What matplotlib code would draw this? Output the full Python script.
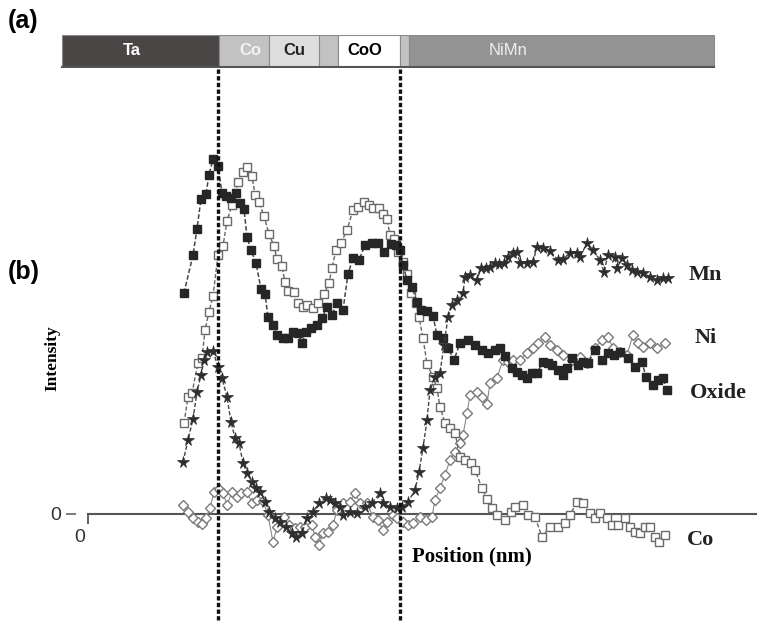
import numpy as np
import matplotlib.pyplot as plt
from matplotlib.lines import Line2D
from matplotlib.transforms import blended_transform_factory, ScaledTranslation

# (a) layer stack, thicknesses in nm
layers = ['Ta', 'Co', 'Cu', '', 'CoO', '', 'NiMn']
thick = [15.7, 5.0, 5.0, 1.9, 6.2, 0.9, 30.5]
stack_start = -2.6
layer_colors = ['#4b4646', '#c2c2c2', '#dedede', '#c2c2c2', '#ffffff', '#c2c2c2', '#939393']
text_colors = ['white', '#f4f4f4', '#222222', '#222222', 'black', '#222222', '#eeeeee']
text_weight = ['bold', 'bold', 'bold', 'bold', 'bold', 'bold', 'normal']
label_shift = [-0.9, 0.6, 0, 0, -0.4, 0, -5.3]

# interfaces marked by dashed lines (nm)
interfaces = [13.0, 31.2]

# (b) profiles: position in Angstrom, intensity in arb. units
oxide_pos = [96, 105, 109, 113, 118, 121, 125, 130, 134, 138, 143, 148, 152, 156, 159, 163, 168, 173,
             177, 180, 185, 189, 195, 200, 205, 210, 214, 218, 223, 229, 234, 239, 244, 249, 255, 260,
             265, 271, 277, 284, 290, 296, 303, 308, 312, 315, 319, 324, 329, 333, 339, 345, 349, 355,
             360, 366, 372, 380, 387, 394, 400, 407, 412, 417, 424, 429, 434, 439, 444, 449, 455, 460,
             464, 470, 475, 479, 484, 490, 495, 500, 507, 514, 520, 526, 532, 540, 547, 554, 558, 565,
             570, 575, 579]
oxide_int = [221, 259, 285, 315, 320, 339, 355, 348, 321, 318, 316, 321, 311, 305, 277, 264, 251, 225,
             220, 197, 189, 179, 176, 176, 182, 181, 171, 182, 186, 189, 196, 207, 199, 211, 204, 240,
             256, 254, 269, 271, 271, 262, 270, 269, 264, 249, 234, 227, 212, 204, 203, 198, 179, 176,
             166, 154, 171, 174, 169, 164, 161, 164, 166, 158, 146, 142, 139, 136, 141, 141, 152, 151,
             149, 144, 139, 146, 156, 149, 152, 151, 164, 154, 161, 159, 162, 156, 147, 152, 137, 129,
             134, 136, 124]

co_pos = [96, 100, 104, 110, 114, 117, 121, 125, 130, 135, 139, 144, 150, 155, 159, 164, 167, 171,
          176, 181, 186, 189, 194, 197, 200, 206, 210, 215, 219, 225, 230, 236, 241, 244, 248, 253,
          259, 265, 270, 276, 281, 285, 291, 295, 299, 302, 306, 310, 315, 319, 323, 328, 331, 335,
          339, 345, 349, 352, 357, 362, 367, 372, 377, 383, 387, 394, 399, 404, 409, 417, 423, 427,
          435, 440, 447, 454, 462, 470, 477, 482, 489, 495, 502, 507, 512, 519, 524, 530, 537, 542,
          547, 552, 557, 562, 567, 571, 577]
co_int = [91, 117, 121, 151, 156, 184, 202, 218, 259, 268, 293, 309, 332, 342, 347, 338, 319, 312,
          298, 280, 268, 255, 248, 232, 223, 222, 211, 207, 209, 206, 211, 220, 231, 246, 264, 271,
          284, 304, 307, 312, 309, 306, 306, 300, 295, 279, 275, 262, 252, 240, 221, 211, 197, 176,
          150, 137, 126, 107, 91, 86, 81, 57, 54, 51, 44, 26, 15, 6, -1, -6, 2, 7,
          9, -1, -3, -23, -13, -13, -9, -1, 12, 11, 1, -4, 1, -4, -11, -11, -4, -13,
          -18, -19, -13, -13, -23, -28, -21]

mn_pos = [95, 100, 105, 109, 113, 116, 119, 125, 130, 134, 139, 143, 147, 151, 155, 159, 164, 168,
          172, 177, 181, 187, 192, 198, 204, 208, 214, 219, 225, 231, 238, 242, 247, 252, 255, 262,
          269, 277, 284, 292, 295, 302, 309, 314, 320, 327, 331, 335, 339, 342, 347, 352, 356, 360,
          364, 369, 375, 377, 382, 389, 393, 398, 402, 407, 411, 416, 420, 425, 429, 432, 439, 445,
          449, 455, 462, 470, 475, 482, 489, 492, 499, 505, 512, 516, 520, 527, 529, 534, 539, 544,
          549, 555, 562, 569, 575, 580]
mn_int = [52, 74, 95, 122, 139, 154, 162, 163, 147, 136, 117, 92, 76, 71, 51, 41, 32, 26,
          22, 12, 2, -4, -8, -13, -19, -23, -19, -4, 2, 11, 16, 14, 11, 7, -1, 2,
          1, 7, 11, 21, 11, 7, 6, 7, 12, 24, 42, 66, 94, 124, 137, 141, 169, 197,
          209, 214, 221, 237, 239, 234, 246, 246, 247, 251, 250, 251, 257, 261, 262, 251, 251, 252,
          267, 266, 263, 254, 255, 261, 261, 257, 271, 264, 254, 242, 259, 257, 246, 256, 249, 244,
          242, 241, 237, 234, 236, 236]

ni_pos = [95, 100, 105, 110, 114, 118, 122, 126, 131, 135, 139, 144, 149, 153, 159, 164, 169, 175,
          180, 185, 189, 196, 201, 207, 212, 217, 224, 227, 231, 235, 240, 245, 249, 255, 262, 267,
          272, 279, 285, 290, 295, 299, 305, 309, 315, 320, 325, 332, 338, 344, 347, 352, 357, 362,
          367, 372, 375, 379, 382, 389, 394, 399, 402, 409, 415, 420, 425, 432, 439, 445, 450, 457,
          462, 469, 475, 484, 492, 499, 507, 514, 520, 525, 532, 539, 545, 550, 555, 562, 569, 577]
ni_int = [9, 2, -4, -8, -10, -4, 6, 22, 25, 21, 9, 22, 17, 21, 22, 11, 14, 13,
          -1, -28, -13, -3, -11, -14, -13, -13, -11, -23, -31, -19, -18, -11, 4, 11, 12, 21,
          11, 11, -3, -6, -16, -8, -1, -4, -8, -11, -9, -3, -6, -3, 14, 26, 39, 54,
          62, 71, 79, 101, 119, 122, 117, 110, 131, 136, 154, 152, 154, 154, 161, 166, 171, 177,
          169, 164, 159, 154, 157, 151, 166, 174, 177, 166, 162, 159, 179, 171, 167, 171, 166, 171]

W, H = 757, 624
fig = plt.figure(figsize=(W / 100, H / 100), dpi=100)

serif = ['Liberation Serif', 'DejaVu Serif']
sans = ['Liberation Sans', 'DejaVu Sans']

# ---- (b) profiles
ax = fig.add_axes([88 / W, 1 - 560 / H, 1 - 88 / W, 420 / H])
ax.set_xlim(0, 66.9)
ax.set_ylim(-46, 374)

ax.plot(np.array(ni_pos) / 10, ni_int, '-', color='#8a8a8a', lw=0.8,
        marker='D', ms=5.5, mfc='white', mec='#7a7a7a', mew=1.0, zorder=3)
ax.plot(np.array(co_pos) / 10, co_int, '--', color='#666666', lw=1.0, dashes=(3, 1.5),
        marker='s', ms=5.5, mfc='white', mec='#6a6a6a', mew=1.0, zorder=4)
ax.plot(np.array(oxide_pos) / 10, oxide_int, '--', color='#444444', lw=1.1, dashes=(3, 1.5),
        marker='s', ms=5.5, mfc='#262626', mec='#262626', zorder=5)
ax.plot(np.array(mn_pos) / 10, mn_int, '--', color='#444444', lw=1.0, dashes=(3, 1.5),
        marker='*', ms=8.5, mfc='#2e2e2e', mec='#2e2e2e', mew=0.5, zorder=6)

for s in ['top', 'right']:
    ax.spines[s].set_visible(False)
ax.spines['left'].set_visible(False)
ax.spines['left'].set_position(('outward', 9))
ax.spines['bottom'].set_position(('data', 0))
ax.spines['bottom'].set_color('#555555')
ax.spines['bottom'].set_linewidth(1.5)
ax.patch.set_alpha(0)

ax.set_xticks([0])
ax.set_xticklabels(['0'])
ax.set_yticks([0])
ax.set_yticklabels(['0'])
ax.tick_params(axis='x', direction='out', length=7, width=1.5, color='#666666',
               labelsize=14, labelcolor='#333333', pad=4)
ax.tick_params(axis='y', direction='out', length=7, width=1.2, color='#666666',
               labelsize=14, labelcolor='#333333', pad=3)
for lbl in ax.get_xticklabels():
    lbl.set_family(sans)
    lbl.set_transform(lbl.get_transform() + ScaledTranslation(-0.08, 0, fig.dpi_scale_trans))
for lbl in ax.get_yticklabels():
    lbl.set_family(sans)

# ---- (a) layer stack
bax = fig.add_axes([0, 1 - 68 / H, 1, 33 / H])
bax.set_xlim(-8.8, 66.9)
bax.set_ylim(0, 1)
bax.axis('off')
lefts = stack_start + np.concatenate([[0], np.cumsum(thick)[:-1]])
bax.barh(0.5, thick, left=lefts, height=1, color=layer_colors, edgecolor='#8a8a8a', linewidth=0.8)
bax.plot([lefts[0], lefts[-1] + thick[-1]], [0.02, 0.02], color='#555555', lw=1.5)
for name, l, t, c, w, sh in zip(layers, lefts, thick, text_colors, text_weight, label_shift):
    if name:
        bax.text(l + t / 2 + sh, 0.52, name, ha='center', va='center', color=c,
                 fontsize=12, fontweight=w, family=sans)

# dashed interface lines through both panels
trans = blended_transform_factory(ax.transData, fig.transFigure)
for xi in interfaces:
    fig.add_artist(Line2D([xi, xi], [0.006, 1 - 68 / H], transform=trans,
                          color='#111111', lw=2.4, dashes=(1.3, 0.7)))

# ---- labels
fig.text(8 / W, 1 - 21 / H, '(a)', fontsize=18, fontweight='bold', family=sans, va='center')
fig.text(8 / W, 1 - 272 / H, '(b)', fontsize=18, fontweight='bold', family=sans, va='center')
fig.text(52 / W, 1 - 358 / H, 'Intensity', rotation=90, fontsize=12.5, fontweight='bold',
         family=serif, ha='center', va='center')
fig.text(412 / W, 1 - 561 / H, 'Position (nm)', fontsize=15, fontweight='bold',
         family=serif, va='baseline')
for name, x, y in [('Mn', 689, 280), ('Ni', 695, 343), ('Oxide', 690, 398), ('Co', 687, 545)]:
    fig.text(x / W, 1 - y / H, name, fontsize=16, fontweight='bold', family=serif,
             va='baseline', color='#222222')

fig.savefig('out.png', dpi=100)
